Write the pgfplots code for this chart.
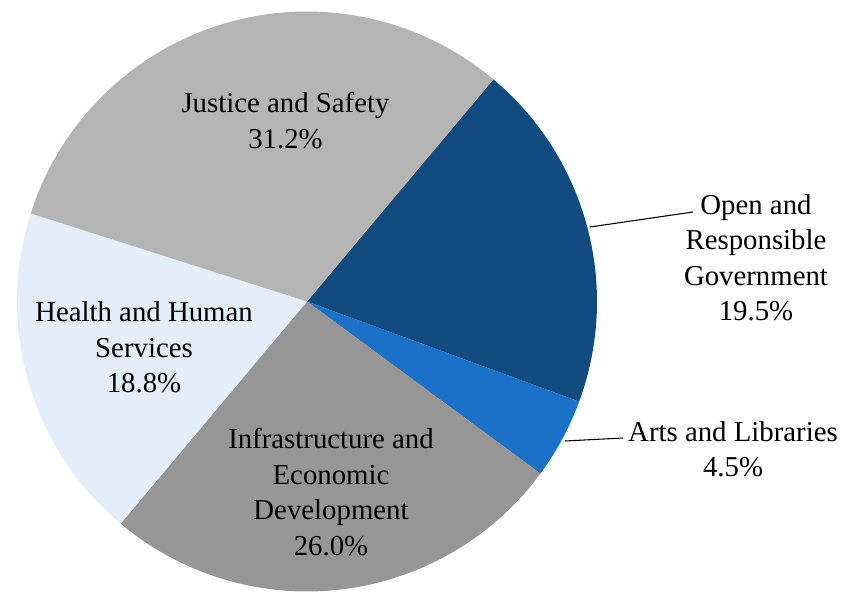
\documentclass[border=0pt]{standalone}
\usepackage{fontspec}
\setmainfont{Liberation Serif}
\usepackage{pgfplots}
\pgfplotsset{compat=1.18}

\definecolor{openc}{HTML}{114B7F}
\definecolor{artsc}{HTML}{1A71C7}
\definecolor{infrac}{HTML}{969696}
\definecolor{healthc}{HTML}{E3EEFA}
\definecolor{justc}{HTML}{B4B4B4}

% shares in percent, clockwise from the first boundary at 50 degrees
\def\sOpen{19.5}
\def\sArts{4.5}
\def\sInfra{26.0}
\def\sHealth{18.8}
\def\sJust{31.2}
\pgfmathsetmacro\aA{50}
\pgfmathsetmacro\aB{\aA-3.6*\sOpen}
\pgfmathsetmacro\aC{\aB-3.6*\sArts}
\pgfmathsetmacro\aD{\aC-3.6*\sInfra}
\pgfmathsetmacro\aE{\aD-3.6*\sHealth}
\pgfmathsetmacro\aF{\aE-3.6*\sJust}
\def\R{217.5pt}
\tikzset{lbl/.style={font=\fontsize{21.6}{26.6}\selectfont, align=center, text=black, inner sep=0pt}}

\begin{document}
\begin{tikzpicture}
\begin{axis}[
  x=0.75pt, y=0.75pt, scale only axis,
  xmin=0, xmax=843, ymin=0, ymax=593,
  hide axis,
]
\addplot[draw=none] coordinates {(0,0) (843,593)};
\fill[openc]   (axis cs:307,291.5) -- ++(\aA:\R) arc[start angle=\aA, end angle=\aB, radius=\R] -- cycle;
\fill[artsc]   (axis cs:307,291.5) -- ++(\aB:\R) arc[start angle=\aB, end angle=\aC, radius=\R] -- cycle;
\fill[infrac]  (axis cs:307,291.5) -- ++(\aC:\R) arc[start angle=\aC, end angle=\aD, radius=\R] -- cycle;
\fill[healthc] (axis cs:307,291.5) -- ++(\aD:\R) arc[start angle=\aD, end angle=\aE, radius=\R] -- cycle;
\fill[justc]   (axis cs:307,291.5) -- ++(\aE:\R) arc[start angle=\aE, end angle=\aF, radius=\R] -- cycle;

\draw[black, line width=0.8pt] (axis cs:590,366) -- (axis cs:693,381);
\draw[black, line width=0.8pt] (axis cs:565,152) -- (axis cs:623,155);

\node[lbl] at (axis cs:285.5,472.5) {Justice and Safety\\\sJust\%};
\node[lbl] at (axis cs:756,335.5) {Open and\\Responsible\\Government\\\sOpen\%};
\node[lbl] at (axis cs:733,144) {Arts and Libraries\\\sArts\%};
\node[lbl] at (axis cs:144,245.5) {Health and Human\\Services\\\sHealth\%};
\node[lbl] at (axis cs:331,101) {Infrastructure and\\Economic\\Development\\\sInfra\%};
\end{axis}
\end{tikzpicture}
\end{document}
